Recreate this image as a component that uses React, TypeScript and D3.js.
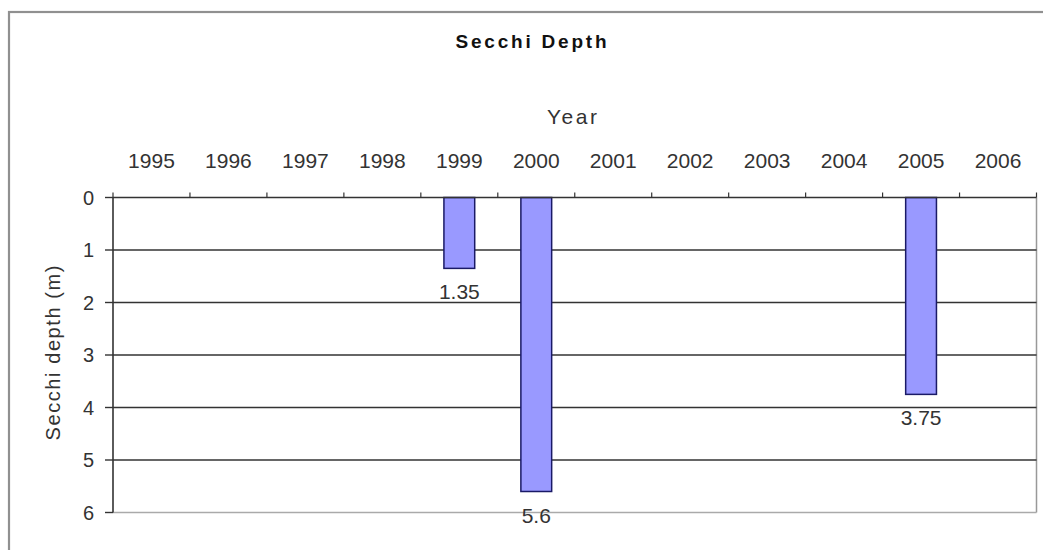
import React from "react";
import * as d3 from "d3";

// Secchi depth readings by year (metres); null = no reading that year
const years: string[] = ["1995", "1996", "1997", "1998", "1999", "2000", "2001", "2002", "2003", "2004", "2005", "2006"];
const depths: (number | null)[] = [null, null, null, null, 1.35, 5.6, null, null, null, null, 3.75, null];
const depthTicks: number[] = [0, 1, 2, 3, 4, 5, 6];

const title = "Secchi Depth";
const xTitle = "Year";
const yTitle = "Secchi depth (m)";

const W = 1043;
const H = 550;
const plot = { left: 113, right: 1036.5, top: 197.5, bottom: 512.5 };
const font = "'Liberation Sans', Arial, Helvetica, sans-serif";

export default function App() {
  const x = d3.scaleBand<string>().domain(years).range([plot.left, plot.right]).paddingInner(0).paddingOuter(0);
  const y = d3.scaleLinear().domain([0, 6]).range([plot.top, plot.bottom]);
  const barW = x.bandwidth() * 0.4;
  const bars = years
    .map((yr, i) => ({ yr, v: depths[i] }))
    .filter((d): d is { yr: string; v: number } => d.v !== null);
  const boundaries = years.map((yr) => x(yr) as number).concat([plot.right]);

  return (
    <svg
      width={W}
      height={H}
      viewBox={`0 0 ${W} ${H}`}
      style={{ position: "absolute", left: 0, top: 0, display: "block", background: "#fff" }}
      fontFamily={font}
    >
      {/* chart frame */}
      <rect x={9} y={12} width={W + 20} height={H + 20} fill="#fff" stroke="#909090" strokeWidth={2.2} />

      {/* title */}
      <text x={531} y={48} textAnchor="middle" fontSize={19} fontWeight="bold" fill="#111" textLength={151} lengthAdjust="spacing">
        {title}
      </text>

      {/* axis titles */}
      <text x={572} y={124} textAnchor="middle" fontSize={21} fill="#333" textLength={50} lengthAdjust="spacing">
        {xTitle}
      </text>
      <text
        transform={`translate(60, ${(plot.top + plot.bottom) / 2 - 2}) rotate(-90)`}
        textAnchor="middle"
        fontSize={20}
        fill="#333"
        textLength={175}
        lengthAdjust="spacing"
      >
        {yTitle}
      </text>

      {/* plot area border (right and bottom) */}
      <line x1={plot.right} x2={plot.right} y1={plot.top} y2={plot.bottom} stroke="#999" strokeWidth={1.5} />
      <line x1={plot.left} x2={plot.right} y1={plot.bottom} y2={plot.bottom} stroke="#aaa" strokeWidth={1.5} />

      {/* horizontal gridlines */}
      {depthTicks
        .filter((t) => t > 0 && t < 6)
        .map((t) => (
          <line key={`g${t}`} x1={plot.left} x2={plot.right} y1={y(t)} y2={y(t)} stroke="#333" strokeWidth={1.6} />
        ))}

      {/* bars (depth hangs down from the surface) */}
      {bars.map((d) => {
        const cx = (x(d.yr) as number) + x.bandwidth() / 2;
        return (
          <g key={`b${d.yr}`}>
            <rect
              x={cx - barW / 2}
              y={y(0)}
              width={barW}
              height={y(d.v) - y(0)}
              fill="#9999ff"
              stroke="#1a1a66"
              strokeWidth={1.5}
            />
            <text x={cx} y={y(d.v) + 31} textAnchor="middle" fontSize={21} fill="#333">
              {String(d.v)}
            </text>
          </g>
        );
      })}

      {/* top category axis */}
      <line x1={plot.left} x2={plot.right} y1={plot.top} y2={plot.top} stroke="#333" strokeWidth={1.6} />
      {boundaries.map((bx, i) => (
        <line key={`t${i}`} x1={bx} x2={bx} y1={plot.top - 5} y2={plot.top} stroke="#333" strokeWidth={1.2} />
      ))}
      {years.map((yr) => (
        <text key={`yl${yr}`} x={(x(yr) as number) + x.bandwidth() / 2} y={168} textAnchor="middle" fontSize={21} fill="#333">
          {yr}
        </text>
      ))}

      {/* left value axis */}
      <line x1={plot.left} x2={plot.left} y1={plot.top} y2={plot.bottom} stroke="#333" strokeWidth={1.6} />
      {depthTicks.map((t) => (
        <g key={`yt${t}`}>
          <line x1={plot.left - 8} x2={plot.left} y1={y(t)} y2={y(t)} stroke="#333" strokeWidth={1.4} />
          <text x={94} y={y(t)} dy="0.36em" textAnchor="end" fontSize={20} fill="#333">
            {t}
          </text>
        </g>
      ))}
    </svg>
  );
}
